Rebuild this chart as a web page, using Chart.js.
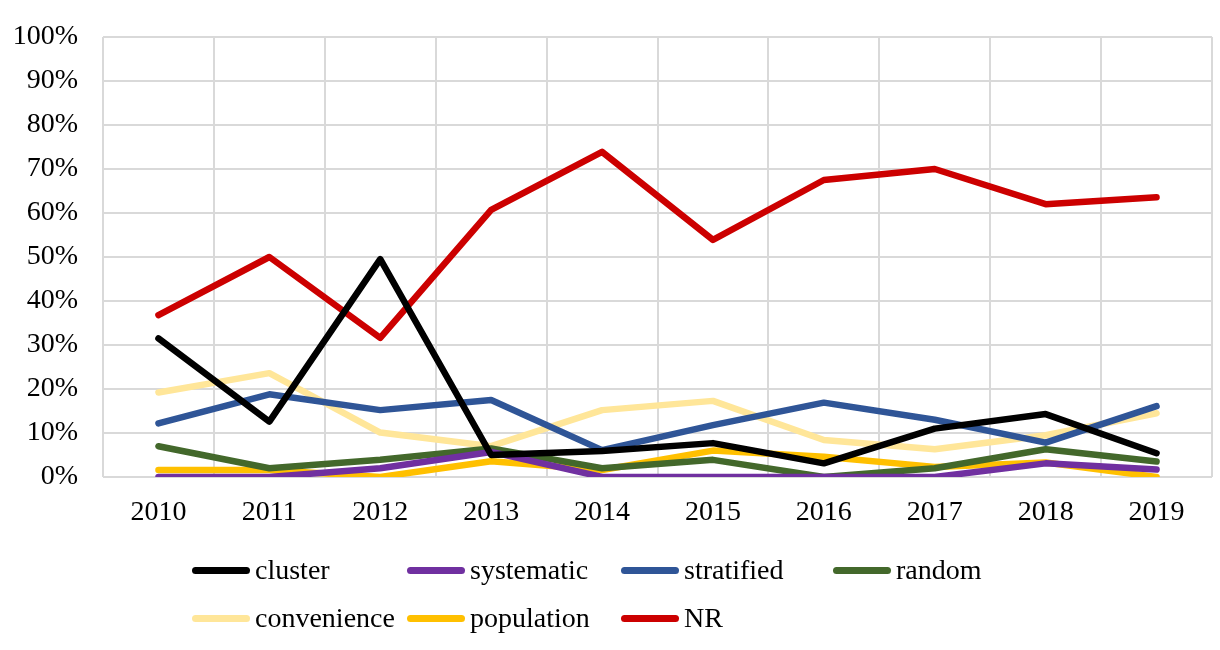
<!DOCTYPE html>
<html>
<head>
<meta charset="utf-8">
<script src="https://cdn.jsdelivr.net/npm/chart.js@4"></script>
<style>
  body { margin: 0; background: #fff; }
  #wrap { position: relative; width: 1220px; height: 650px; }
  #legend { position: absolute; left: 192px; top: 552px; display: grid;
    grid-template-columns: 215px 214px 212px 214px; row-gap: 12px;
    font-family: "Liberation Serif", "Times New Roman", serif; font-size: 28px; color: #000; }
  .item { display: flex; align-items: center; height: 36px; white-space: nowrap; }
  .swatch { width: 58px; height: 7px; border-radius: 4px; margin-right: 5px; }
</style>
</head>
<body>
<div id="wrap">
  <canvas id="chart" width="1220" height="650"></canvas>
  <div id="legend"></div>
</div>
<script>
  const years = ["2010", "2011", "2012", "2013", "2014", "2015", "2016", "2017", "2018", "2019"];
  const cluster = [31.5, 12.6, 49.5, 5.0, 5.9, 7.7, 3.1, 11.0, 14.3, 5.4];
  const systematic = [0, 0, 2.0, 5.7, 0, 0, 0, 0, 3.1, 1.7];
  const stratified = [12.2, 18.8, 15.2, 17.5, 6.1, 11.8, 16.9, 13.0, 7.8, 16.1];
  const random = [7.0, 2.0, 3.9, 6.5, 2.0, 3.9, 0, 2.0, 6.3, 3.5];
  const convenience = [19.2, 23.6, 10.1, 7.0, 15.2, 17.3, 8.4, 6.3, 9.5, 14.5];
  const population = [1.6, 1.6, 0, 3.6, 1.6, 6.0, 4.6, 2.3, 3.3, 0];
  const nr = [36.8, 50.0, 31.6, 60.7, 73.9, 53.9, 67.5, 70.0, 62.0, 63.6];

  const series = [
    { label: "cluster", data: cluster, color: "#000000" },
    { label: "systematic", data: systematic, color: "#7030a0" },
    { label: "stratified", data: stratified, color: "#2f5597" },
    { label: "random", data: random, color: "#43682b" },
    { label: "convenience", data: convenience, color: "#ffe699" },
    { label: "population", data: population, color: "#ffc000" },
    { label: "NR", data: nr, color: "#cc0000" },
  ];

  const font = { family: "'Liberation Serif', 'Times New Roman', serif", size: 28 };

  const ctx = document.getElementById("chart").getContext("2d");
  const chart = new Chart(ctx, {
    type: "line",
    data: {
      labels: years,
      datasets: series.map((s) => ({
        label: s.label,
        data: s.data,
        borderColor: s.color,
        backgroundColor: s.color,
        borderWidth: 6.5,
        pointRadius: 0,
        tension: 0,
        borderCapStyle: "round",
        borderJoinStyle: "round",
      })),
    },
    options: {
      responsive: false,
      animation: false,
      layout: { padding: { top: 37, right: 8, bottom: 113, left: 0 } },
      plugins: { legend: { display: false }, tooltip: { enabled: false } },
      scales: {
        x: {
          offset: true,
          grid: { offset: true, color: "#d9d9d9", lineWidth: 2, drawTicks: false },
          border: { display: false },
          ticks: { font: font, color: "#000", padding: 19 },
          afterFit: (s) => { s.height = 60; s.paddingLeft = 0; s.paddingRight = 0; },
        },
        y: {
          min: 0,
          max: 100,
          grid: { color: "#d9d9d9", lineWidth: 2, drawTicks: false },
          border: { display: false },
          ticks: { stepSize: 10, font: font, color: "#000", padding: 25,
            callback: (v) => v + "%" },
          afterFit: (s) => { s.width = 103; s.paddingTop = 0; s.paddingBottom = 0; },
        },
      },
    },
  });

  // Legend laid out in fixed columns like the original
  const legend = document.getElementById("legend");
  series.forEach((s) => {
    const item = document.createElement("div");
    item.className = "item";
    item.innerHTML = '<span class="swatch" style="background:' + s.color + '"></span>' + s.label;
    legend.appendChild(item);
  });
</script>
</body>
</html>
